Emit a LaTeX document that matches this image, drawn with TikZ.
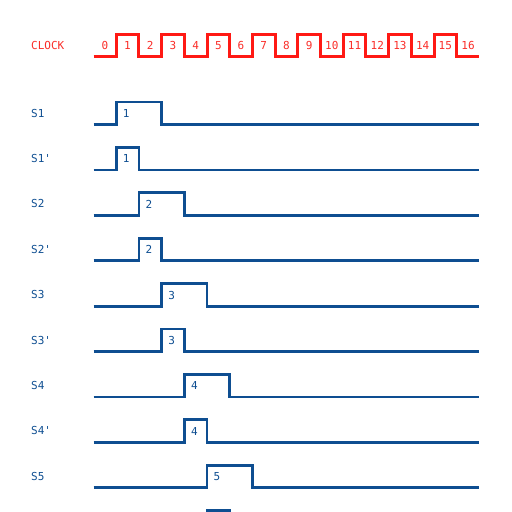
\documentclass[tikz,border=0pt]{standalone}
\usepackage{fontspec}
\setmonofont{DejaVu Sans Mono}
\definecolor{clk}{RGB}{255,25,20}
\definecolor{clktxt}{RGB}{250,45,40}
\definecolor{sig}{RGB}{14,78,145}
\tikzset{
  clkline/.style={draw=clk, line width=3pt},
  sigline/.style={draw=sig, line width=2.8pt},
  clktext/.style={text=clktxt, inner sep=0pt},
  sigtext/.style={text=sig, inner sep=0pt},
}
\begin{document}
\begin{tikzpicture}[x=1pt,y=-1pt, font=\ttfamily\fontsize{11}{13}\selectfont]
\useasboundingbox (0,0) rectangle (512,512);
\clip (0,0) rectangle (512,512);
% clock
\node[clktext, anchor=west] (clocklbl) at (31,45) {CLOCK};
\draw[clkline] (93.5,56.5)
  \foreach \k in {1,3,...,15} {
    -- ({93.5+\k*22.7},56.5) -- ({93.5+\k*22.7},34.5)
    -- ({93.5+(\k+1)*22.7},34.5) -- ({93.5+(\k+1)*22.7},56.5)
  } -- (479.4,56.5);
\foreach \k in {0,...,16} {
  \node[clktext] (c\k) at ({93.5+(\k+0.5)*22.7},45.5) {\k};
}
% signals
\foreach \i/\lab/\k/\w/\n in {0/S1/1/2/1, 1/S1'/1/1/1, 2/S2/2/2/2, 3/S2'/2/1/2,
    4/S3/3/2/3, 5/S3'/3/1/3, 6/S4/4/2/4, 7/S4'/4/1/4, 8/S5/5/2/5} {
  \pgfmathsetmacro\yl{124.5+45.4*\i}
  \pgfmathsetmacro\yh{\yl-22.5}
  \pgfmathsetmacro\xa{93.5+\k*22.7}
  \pgfmathsetmacro\xb{93.5+(\k+\w)*22.7}
  \node[sigtext, anchor=west] (l\i) at (31,\yl-11.5) {\lab};
  \draw[sigline] (93.5,\yl) -- (\xa,\yl) -- (\xa,\yh) -- (\xb,\yh) -- (\xb,\yl) -- (479.4,\yl);
  \node[sigtext, anchor=west] (n\i) at (\xa+6.5,\yl-11) {\n};
}
% S5' row, only the top of its pulse lies inside the picture
\draw[sigline] (93.5,533.1) -- (207,533.1) -- (207,510.6) -- (229.7,510.6) -- (229.7,533.1) -- (479.4,533.1);
\end{tikzpicture}
\end{document}
